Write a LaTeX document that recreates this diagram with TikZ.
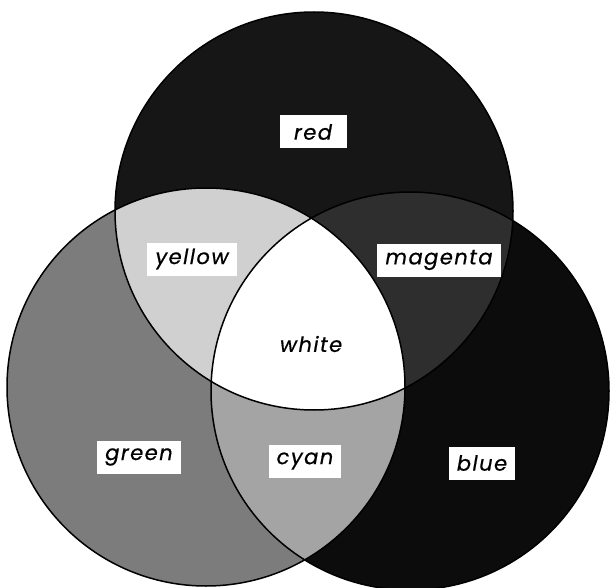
\documentclass[tikz,border=0pt]{standalone}
\usepackage{fontspec}
\newfontfamily\tagfont[LetterSpace=7, FakeBold=0.6]{Poppins}
\definecolor{redgray}{HTML}{161616}
\definecolor{greengray}{HTML}{7C7C7C}
\definecolor{bluegray}{HTML}{0C0C0C}
\definecolor{yellowgray}{HTML}{D0D0D0}
\definecolor{magentagray}{HTML}{2E2E2E}
\definecolor{cyangray}{HTML}{A4A4A4}

\begin{document}
\begin{tikzpicture}[
  x=1pt, y=-1pt,
  disc/.style={draw=black, line width=1.5pt},
  tag/.style={fill=white, inner xsep=8pt, inner ysep=4pt, minimum height=33pt, font=\tagfont\itshape\fontsize{21}{24}\selectfont},
]
\useasboundingbox (0,0) rectangle (613,588);
\def\rad{199pt}
% circle centres
\coordinate (cr) at (314,211);
\coordinate (cg) at (206,387);
\coordinate (cb) at (410,391);

% primaries
\fill[redgray] (cr) circle (\rad);
\fill[greengray] (cg) circle (\rad);
\fill[bluegray] (cb) circle (\rad);

% overlaps
\begin{scope}
  \clip (cg) circle (\rad);
  \fill[cyangray] (cb) circle (\rad);
\end{scope}
\begin{scope}
  \clip (cr) circle (\rad);
  \fill[yellowgray] (cg) circle (\rad);
  \fill[magentagray] (cb) circle (\rad);
  \clip (cg) circle (\rad);
  \fill[white] (cb) circle (\rad);
\end{scope}

% outlines
\draw[disc] (cr) circle (\rad);
\draw[disc] (cg) circle (\rad);
\draw[disc] (cb) circle (\rad);

% labels
\node[tag, minimum width=67pt] (redtag) at (313,132) {red};
\node[tag] (yellowtag) at (192,259) {yellow};
\node[tag] (magentatag) at (439,260) {magenta};
\node[tag] (whitetag) at (311,344) {white};
\node[tag] (greentag) at (139,457) {green};
\node[tag] (cyantag) at (305,461) {cyan};
\node[tag] (bluetag) at (482,463) {blue};
\end{tikzpicture}
\end{document}
